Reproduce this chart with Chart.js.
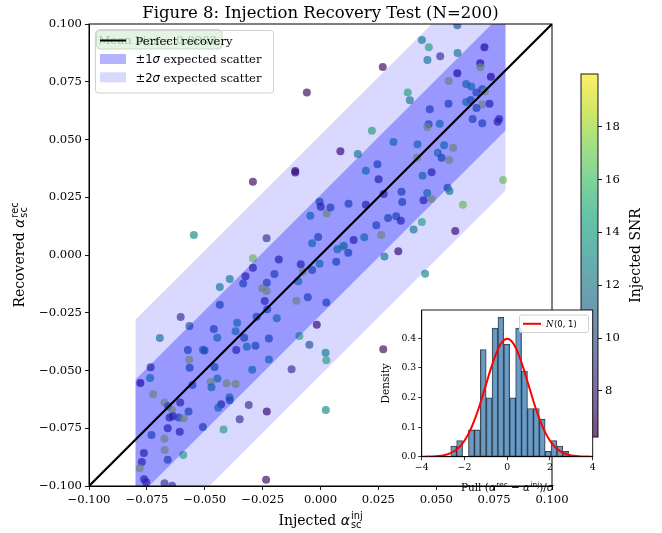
<!DOCTYPE html>
<html>
<head>
<meta charset="utf-8">
<title>Injection Recovery Test</title>
<script src="https://cdn.jsdelivr.net/npm/chart.js@4.4.1/dist/chart.umd.min.js"></script>
<style>
  html, body { margin: 0; padding: 0; background: #fff; }
  #wrap { position: relative; width: 662px; height: 533px; }
  #wrap canvas { position: absolute; left: 0; top: 0; }
</style>
</head>
<body>
<div id="wrap">
  <canvas id="main" width="662" height="533"></canvas>
  <canvas id="cbar" width="662" height="533"></canvas>
  <canvas id="inset" width="662" height="533"></canvas>
</div>
<script>
// values
const injected = [
  -0.0059, -0.0292, -0.0109, -0.0109, -0.0547, -0.0233, -0.0004, 0.0001, -0.0044, 0.0027, -0.0010, -0.0036,
  0.0591, 0.0438, 0.0468, 0.0708, 0.0517, 0.0592, 0.0462, 0.0269, 0.0690, 0.0691,
  0.0591, 0.0736, 0.0554, 0.0629, 0.0651, 0.0673, 0.0699, 0.0710, 0.0377, 0.0386,
  0.0649, 0.0629, 0.0699, 0.0730, 0.0553, 0.0674, 0.0472, 0.0657, 0.0699, 0.0765,
  0.0772, 0.0515, 0.0467, 0.0461, 0.0222, 0.0315, 0.0419, 0.0534, 0.0573, 0.0086,
  0.0161, 0.0507, 0.0523, 0.0416, 0.0556, 0.0246, 0.0196, 0.0480, 0.0441, 0.0251,
  0.0789, 0.0549, 0.0557, 0.0350, 0.0273, 0.0461, 0.0480, 0.0445, 0.0353, 0.0121,
  0.0196, 0.0043, 0.0615, 0.0292, 0.0327, 0.0347, 0.0241, 0.0438, 0.0582, 0.0402,
  0.0262, 0.0189, 0.0143, 0.0336, 0.0094, 0.0101, 0.0073, 0.0120,
  -0.0292, -0.0180, -0.0085, -0.0004, -0.0076, -0.0036, -0.0292, -0.0324, -0.0199, -0.0392,
  -0.0435, -0.0334, -0.0232, -0.0096, -0.0252, -0.0233, 0.0025, -0.0055, -0.0241, -0.0435,
  -0.0104, -0.0230, -0.0276, -0.0189, -0.0604, -0.0566, -0.0360, -0.0367, -0.0461, -0.0330,
  -0.0446, -0.0694, -0.0318, -0.0281, -0.0223, -0.0016, -0.0091, -0.0048, -0.0364, -0.0573,
  -0.0508, -0.0501, -0.0567, -0.0565, -0.0734, -0.0458, -0.0223, 0.0022, 0.0025, -0.0736,
  -0.0778, -0.0553, -0.0445, -0.0474, -0.0406, -0.0367, -0.0471, -0.0295, -0.0125, -0.0723,
  -0.0674, -0.0606, -0.0393, -0.0392, -0.0658, -0.0641, -0.0429, -0.0442, -0.0310, -0.0232,
  0.0023, -0.0652, -0.0638, -0.0613, -0.0591, -0.0570, -0.0349, -0.0508, -0.0419, -0.0660,
  -0.0608, -0.0730, -0.0674, -0.0673, -0.0593, -0.0660, -0.0763, -0.0772, -0.0781, -0.0762,
  -0.0753, -0.0674, -0.0641, -0.0235,
  0.0276, 0.0068, 0.0452, 0.0271
];
const recovered = [
  0.0704, 0.0317, 0.0364, 0.0357, 0.0087, 0.0072, 0.0231, 0.0209, 0.0170, 0.0181, 0.0078, 0.0051,
  0.0995, 0.0931, 0.0899, 0.0899, 0.0860, 0.0874, 0.0844, 0.0814, 0.0830, 0.0813,
  0.0787, 0.0772, 0.0753, 0.0740, 0.0729, 0.0704, 0.0717, 0.0709, 0.0704, 0.0670,
  0.0671, 0.0662, 0.0652, 0.0655, 0.0655, 0.0636, 0.0631, 0.0589, 0.0570, 0.0577,
  0.0589, 0.0568, 0.0566, 0.0554, 0.0538, 0.0489, 0.0479, 0.0475, 0.0464, 0.0449,
  0.0437, 0.0443, 0.0421, 0.0421, 0.0411, 0.0393, 0.0365, 0.0358, 0.0343, 0.0328,
  0.0325, 0.0291, 0.0277, 0.0274, 0.0264, 0.0268, 0.0242, 0.0237, 0.0229, 0.0222,
  0.0218, 0.0206, 0.0218, 0.0160, 0.0168, 0.0148, 0.0129, 0.0143, 0.0104, 0.0110,
  0.0087, 0.0077, 0.0065, 0.0016, 0.0036, 0.0040, 0.0025, 0.0010,
  -0.0014, -0.0020, -0.0040, -0.0038, -0.0072, -0.0065, -0.0055, -0.0092, -0.0082, -0.0104,
  -0.0139, -0.0123, -0.0120, -0.0114, -0.0144, -0.0156, -0.0206, -0.0183, -0.0199, -0.0215,
  -0.0198, -0.0235, -0.0267, -0.0274, -0.0268, -0.0307, -0.0293, -0.0330, -0.0320, -0.0358,
  -0.0358, -0.0359, -0.0397, -0.0393, -0.0361, -0.0302, -0.0351, -0.0388, -0.0411, -0.0411,
  -0.0410, -0.0413, -0.0453, -0.0488, -0.0486, -0.0485, -0.0452, -0.0423, -0.0456, -0.0532,
  -0.0554, -0.0563, -0.0535, -0.0550, -0.0555, -0.0558, -0.0573, -0.0497, -0.0495, -0.0603,
  -0.0638, -0.0638, -0.0616, -0.0629, -0.0655, -0.0671, -0.0646, -0.0661, -0.0649, -0.0678,
  -0.0671, -0.0704, -0.0698, -0.0704, -0.0707, -0.0677, -0.0711, -0.0745, -0.0755, -0.0750,
  -0.0765, -0.0779, -0.0795, -0.0844, -0.0866, -0.0886, -0.0857, -0.0896, -0.0923, -0.0971,
  -0.0984, -0.0988, -0.0999, -0.0973,
  -0.0007, -0.0029, -0.0081, -0.0408
];
const snr = [
  7, 7, 7, 7, 13, 9, 11, 8.5, 14.5, 18.5, 11, 14.5,
  11, 13, 15.5, 7, 9, 13, 13, 7, 7, 18.5,
  7, 7, 18.5, 14.5, 14.5, 11, 11, 18.5, 15.5, 13,
  11, 14.5, 18.5, 8.5, 11, 11, 11, 11, 11, 8.5,
  8.5, 14.5, 11, 18.5, 15.5, 14.5, 14.5, 14.5, 18.5, 7,
  13, 14.5, 11, 18.5, 18.5, 11, 14.5, 8.5, 14.5, 8.5,
  17.5, 11, 13, 11, 8.5, 14.5, 18.5, 8.5, 11, 11,
  8.5, 11, 17.5, 11, 11, 8.5, 11, 15.5, 7, 13,
  18.5, 14.5, 8.5, 7, 18.5, 14.5, 14.5, 11,
  17.5, 8.5, 8.5, 14.5, 18.5, 11, 8.5, 8.5, 11, 13,
  13, 11, 11, 14.5, 18.5, 18.5, 11, 11, 8.5, 11,
  18.5, 11, 11, 14.5, 9, 11, 14.5, 14.5, 11, 11,
  14.5, 13, 14.5, 11, 11, 7, 15.5, 11, 8.5, 11,
  14.5, 11, 18.5, 11, 8.5, 11, 14.5, 13, 15.5, 14.5,
  7, 11, 14.5, 18.5, 18.5, 18.5, 14.5, 14.5, 9, 18.5,
  18.5, 8.5, 14.5, 11, 11, 18.5, 8.5, 14.5, 9, 7,
  13, 8.5, 8.5, 11, 18.5, 11, 9, 11, 15.5, 8.5,
  8.5, 11, 18.5, 18.5, 15.5, 11, 8.5, 8.5, 18.5, 8.5,
  8.5, 9, 9, 7,
  13, 11, 13, 7
];
const sigma = 0.026;
const bandX = [-0.08, 0.08];
const lineX = [-0.1, 0.1];
const axisTicks = [-0.1, -0.075, -0.05, -0.025, 0, 0.025, 0.05, 0.075, 0.1];
const snrRange = [6.25, 20];
const snrTicks = [8, 10, 12, 14, 16, 18];
const pullCounts = [2, 3, 0, 5, 5, 20, 11, 24, 26, 21, 11, 24, 16, 9, 9, 7, 1, 3, 2, 1];
const pullStart = -2.64;
const pullWidth = 0.276;
const pullTicks = [-4, -2, 0, 2, 4];
const densityTicks = [0, 0.1, 0.2, 0.3, 0.4];
const normalX = [-4, -3.75, -3.5, -3.25, -3, -2.75, -2.5, -2.25, -2, -1.75, -1.5, -1.25, -1, -0.75, -0.5, -0.25,
  0, 0.25, 0.5, 0.75, 1, 1.25, 1.5, 1.75, 2, 2.25, 2.5, 2.75, 3, 3.25, 3.5, 3.75, 4];
const normalY = [0.0001, 0.0004, 0.0009, 0.0020, 0.0044, 0.0091, 0.0175, 0.0317, 0.0540, 0.0863, 0.1295, 0.1826,
  0.2420, 0.3011, 0.3521, 0.3867, 0.3989, 0.3867, 0.3521, 0.3011, 0.2420, 0.1826, 0.1295, 0.0863, 0.0540,
  0.0317, 0.0175, 0.0091, 0.0044, 0.0020, 0.0009, 0.0004, 0.0001];
const meanBiasText = 'Mean bias = 0.0002';

const SERIF = '"DejaVu Serif", serif';
const SANS = '"DejaVu Sans", sans-serif';

// viridis colormap stops
const VIRIDIS = [[68,1,84],[72,36,117],[65,68,135],[53,95,141],[42,120,142],[33,145,140],
  [34,168,132],[68,191,112],[122,209,81],[189,223,38],[253,231,37]];
function viridis(t, alpha) {
  t = Math.min(1, Math.max(0, t)) * 10;
  const i = Math.min(9, Math.floor(t)), f = t - i;
  const c = VIRIDIS[i].map((v, k) => Math.round(v + (VIRIDIS[i + 1][k] - v) * f));
  return `rgba(${c[0]},${c[1]},${c[2]},${alpha})`;
}

function fmtTick(v, d) {
  return (v < -1e-9 ? '\u2212' : '') + Math.abs(v).toFixed(d);
}

// draws text made of pieces (for super/subscripts); anchor 0 = left, 0.5 = centre
function drawRuns(ctx, runs, x0, y0, rot, anchor) {
  ctx.save();
  ctx.translate(x0, y0);
  if (rot) ctx.rotate(rot);
  ctx.fillStyle = '#000';
  ctx.textAlign = 'left';
  ctx.textBaseline = 'alphabetic';
  let x = 0, start = 0, w = 0;
  const xs = runs.map(r => {
    ctx.font = r.f;
    const rw = ctx.measureText(r.t).width;
    if (r.under) { w = Math.max(w, rw); x = start + w; return start; }
    start = x + (r.gap || 0); w = rw; x = start + rw; return start;
  });
  const off = anchor === undefined ? x / 2 : x * anchor;
  runs.forEach((r, i) => {
    ctx.font = r.f;
    if (r.color) ctx.fillStyle = r.color;
    ctx.fillText(r.t, xs[i] - off, r.dy || 0);
  });
  ctx.restore();
}

function roundRect(ctx, x, y, w, h, r) {
  ctx.beginPath();
  ctx.moveTo(x + r, y);
  ctx.arcTo(x + w, y, x + w, y + h, r);
  ctx.arcTo(x + w, y + h, x, y + h, r);
  ctx.arcTo(x, y + h, x, y, r);
  ctx.arcTo(x, y, x + w, y, r);
  ctx.closePath();
}

// ---------- main scatter ----------
const points = injected.map((x, i) => ({ x: x, y: recovered[i] }));
const pointColors = snr.map(s => viridis((s - snrRange[0]) / (snrRange[1] - snrRange[0]), 0.7));
const perfect = lineX.map(x => ({ x: x, y: x }));
const band = k => ({
  up: bandX.map(x => ({ x: x, y: x + k * sigma })),
  lo: bandX.map(x => ({ x: x, y: x - k * sigma }))
});
const b1 = band(1), b2 = band(2);
const noLine = { borderWidth: 0, borderColor: 'rgba(0,0,0,0)', pointRadius: 0 };

const mainDecor = {
  id: 'mainDecor',
  afterDraw(chart) {
    const ctx = chart.ctx, a = chart.chartArea;
    ctx.save();
    ctx.strokeStyle = '#000';
    ctx.lineWidth = 1;
    ctx.strokeRect(a.left, a.top, a.right - a.left, a.bottom - a.top);

    // title
    ctx.fillStyle = '#000';
    ctx.font = '16.5px ' + SERIF;
    ctx.textAlign = 'center';
    ctx.textBaseline = 'alphabetic';
    ctx.fillText('Figure 8: Injection Recovery Test (N=200)', (a.left + a.right) / 2, 18);

    // axis labels
    drawRuns(ctx, [
      { t: 'Injected ', f: '14px ' + SERIF },
      { t: '\u03b1', f: 'italic 14px ' + SANS },
      { t: 'inj', f: '9.8px ' + SANS, dy: -6, gap: 1 },
      { t: 'sc', f: '9.8px ' + SANS, dy: 3, under: true }
    ], (a.left + a.right) / 2, 525);
    drawRuns(ctx, [
      { t: 'Recovered ', f: '14px ' + SERIF },
      { t: '\u03b1', f: 'italic 14px ' + SANS },
      { t: 'rec', f: '9.8px ' + SANS, dy: -6, gap: 1 },
      { t: 'sc', f: '9.8px ' + SANS, dy: 3, under: true }
    ], 24, (a.top + a.bottom) / 2, -Math.PI / 2);

    // legend
    const lx = 95.5, ly = 30.5, lw = 178, lh = 62.5;
    roundRect(ctx, lx, ly, lw, lh, 3);
    ctx.fillStyle = '#ffffff';
    ctx.fill();
    // mean bias note, mostly hidden under the legend
    roundRect(ctx, 96.5, 29.5, 125.5, 19.5, 4);
    ctx.fillStyle = '#e4f4e2';
    ctx.fill();
    ctx.strokeStyle = '#c9d9c9';
    ctx.stroke();
    ctx.font = '11.6px ' + SERIF;
    ctx.textAlign = 'left';
    ctx.fillStyle = '#a9c4a7';
    ctx.fillText(meanBiasText, 98.5, 44);
    roundRect(ctx, lx, ly, lw, lh, 3);
    ctx.strokeStyle = '#d0d0d0';
    ctx.stroke();

    ctx.strokeStyle = '#000';
    ctx.lineWidth = 2;
    ctx.beginPath();
    ctx.moveTo(100, 40.5);
    ctx.lineTo(126, 40.5);
    ctx.stroke();
    ctx.fillStyle = 'rgb(179,179,255)';
    ctx.fillRect(100, 54, 26, 10);
    ctx.fillStyle = 'rgb(217,217,255)';
    ctx.fillRect(100, 72.3, 26, 10);
    drawRuns(ctx, [{ t: 'Perfect recovery', f: '11.6px ' + SERIF }], 135.5, 44.7, 0, 0);
    [['1', 63.2], ['2', 81.5]].forEach(([k, y]) => {
      drawRuns(ctx, [
        { t: '\u00b1' + k, f: '11.6px ' + SANS },
        { t: '\u03c3', f: 'italic 11.6px ' + SANS },
        { t: ' expected scatter', f: '11.6px ' + SERIF }
      ], 135.5, y, 0, 0);
    });
    ctx.restore();
  }
};

function axisOpts(extra) {
  return Object.assign({
    type: 'linear', min: -0.1, max: 0.1,
    afterBuildTicks: s => { s.ticks = axisTicks.map(v => ({ value: v })); },
    ticks: { autoSkip: false, maxRotation: 0, color: '#000', padding: 3,
      font: { family: SERIF, size: 11.6 }, callback: v => fmtTick(v, 3) },
    grid: { drawOnChartArea: false, drawTicks: true, tickLength: 4, color: '#000', lineWidth: 0.9 },
    border: { display: true, color: '#000', width: 1 }
  }, extra);
}

// draw order: points first, then the two bands laid over them, then the 1:1 line
new Chart(document.getElementById('main'), {
  type: 'scatter',
  data: {
    datasets: [
      { type: 'scatter', data: points, backgroundColor: pointColors, borderWidth: 0,
        pointRadius: 4, pointHoverRadius: 4, order: 3, clip: 0 },
      { type: 'line', data: perfect, borderColor: '#000', borderWidth: 2.2, pointRadius: 0, order: 0, clip: 0 },
      Object.assign({ type: 'line', data: b1.up, fill: '+1', backgroundColor: 'rgba(0,0,255,0.3)', order: 1 }, noLine),
      Object.assign({ type: 'line', data: b1.lo, fill: false, order: 1 }, noLine),
      Object.assign({ type: 'line', data: b2.up, fill: '+1', backgroundColor: 'rgba(0,0,255,0.15)', order: 2 }, noLine),
      Object.assign({ type: 'line', data: b2.lo, fill: false, order: 2 }, noLine)
    ]
  },
  options: {
    responsive: false,
    animation: false,
    events: [],
    layout: { padding: { left: 0, right: 110, top: 24, bottom: 0 } },
    plugins: { legend: { display: false }, tooltip: { enabled: false } },
    scales: {
      x: axisOpts({ afterFit: s => { s.height = 47; } }),
      y: axisOpts({ afterFit: s => { s.width = 89; } })
    }
  },
  plugins: [mainDecor]
});

// ---------- colour bar ----------
const cbarDecor = {
  id: 'cbarDecor',
  beforeDraw(chart) {
    const ctx = chart.ctx, a = chart.chartArea;
    const g = ctx.createLinearGradient(0, a.bottom, 0, a.top);
    VIRIDIS.forEach((c, i) => g.addColorStop(i / 10, `rgba(${c[0]},${c[1]},${c[2]},0.7)`));
    ctx.save();
    ctx.fillStyle = g;
    ctx.fillRect(a.left, a.top, a.right - a.left, a.bottom - a.top);
    ctx.restore();
  },
  afterDraw(chart) {
    const ctx = chart.ctx, a = chart.chartArea;
    ctx.save();
    ctx.strokeStyle = '#000';
    ctx.lineWidth = 0.9;
    ctx.strokeRect(a.left, a.top, a.right - a.left, a.bottom - a.top);
    drawRuns(ctx, [{ t: 'Injected SNR', f: '14px ' + SERIF }], 640, (a.top + a.bottom) / 2, -Math.PI / 2);
    ctx.restore();
  }
};

new Chart(document.getElementById('cbar'), {
  type: 'scatter',
  data: { datasets: [] },
  options: {
    responsive: false,
    animation: false,
    events: [],
    layout: { padding: { left: 581, right: 0, top: 74, bottom: 96 } },
    plugins: { legend: { display: false }, tooltip: { enabled: false } },
    scales: {
      x: { type: 'linear', display: false, min: 0, max: 1 },
      y: {
        type: 'linear', position: 'right', min: snrRange[0], max: snrRange[1],
        afterBuildTicks: s => { s.ticks = snrTicks.map(v => ({ value: v })); },
        afterFit: s => { s.width = 64; },
        ticks: { color: '#000', padding: 3, font: { family: SERIF, size: 11.6 } },
        grid: { drawOnChartArea: false, drawTicks: true, tickLength: 4, color: '#000', lineWidth: 0.9 },
        border: { display: false }
      }
    }
  },
  plugins: [cbarDecor]
});

// ---------- inset histogram of pulls ----------
const nPull = pullCounts.reduce((s, c) => s + c, 0);
const pullBins = pullCounts.map((c, i) => ({
  x: pullStart + (i + 0.5) * pullWidth,
  y: c / (nPull * pullWidth)
}));
const normalPts = normalX.map((x, i) => ({ x: x, y: normalY[i] }));

const insetDecor = {
  id: 'insetDecor',
  beforeDraw(chart) {
    const ctx = chart.ctx, a = chart.chartArea;
    ctx.save();
    ctx.fillStyle = '#fff';
    ctx.fillRect(a.left, a.top, a.right - a.left, a.bottom - a.top);
    ctx.restore();
  },
  afterDraw(chart) {
    const ctx = chart.ctx, a = chart.chartArea;
    ctx.save();
    ctx.strokeStyle = '#000';
    ctx.lineWidth = 0.9;
    ctx.strokeRect(a.left, a.top, a.right - a.left, a.bottom - a.top);

    // legend
    roundRect(ctx, 519.5, 315, 69, 17.5, 2);
    ctx.fillStyle = 'rgba(255,255,255,0.85)';
    ctx.fill();
    ctx.strokeStyle = '#d0d0d0';
    ctx.lineWidth = 1;
    ctx.stroke();
    ctx.strokeStyle = '#ff0000';
    ctx.lineWidth = 2;
    ctx.beginPath();
    ctx.moveTo(523, 323.8);
    ctx.lineTo(541, 323.8);
    ctx.stroke();
    drawRuns(ctx, [
      { t: 'N', f: 'italic 8.5px ' + SERIF },
      { t: '(0, 1)', f: '8.5px ' + SANS, gap: 0.5 }
    ], 546, 327, 0, 0);

    drawRuns(ctx, [{ t: 'Density', f: '10.5px ' + SERIF }], 389, (a.top + a.bottom) / 2, -Math.PI / 2);
    drawRuns(ctx, [
      { t: 'Pull (', f: '10.5px ' + SERIF },
      { t: '\u03b1', f: 'italic 10.5px ' + SANS },
      { t: 'rec', f: '7.3px ' + SANS, dy: -4.5, gap: 0.5 },
      { t: ' \u2212 ', f: '10.5px ' + SANS },
      { t: '\u03b1', f: 'italic 10.5px ' + SANS },
      { t: 'inj', f: '7.3px ' + SANS, dy: -4.5, gap: 0.5 },
      { t: ')/', f: '10.5px ' + SANS },
      { t: '\u03c3', f: 'italic 10.5px ' + SANS }
    ], (a.left + a.right) / 2, 491);
    ctx.restore();
  }
};

new Chart(document.getElementById('inset'), {
  type: 'bar',
  data: {
    datasets: [
      { type: 'line', data: normalPts, borderColor: '#ff0000', borderWidth: 2, pointRadius: 0,
        cubicInterpolationMode: 'monotone', order: 0, clip: 0 },
      { type: 'bar', data: pullBins, backgroundColor: 'rgba(70,130,180,0.8)',
        borderColor: 'rgba(0,0,0,0.75)', borderWidth: 0.8, borderSkipped: false,
        barPercentage: 1, categoryPercentage: 1, order: 1 }
    ]
  },
  options: {
    responsive: false,
    animation: false,
    events: [],
    layout: { padding: { left: 381.7, right: 69.3, top: 310, bottom: 56.3 } },
    plugins: { legend: { display: false }, tooltip: { enabled: false } },
    scales: {
      x: {
        type: 'linear', min: -4, max: 4, offset: false,
        afterBuildTicks: s => { s.ticks = pullTicks.map(v => ({ value: v })); },
        afterFit: s => { s.height = 20; },
        ticks: { autoSkip: false, maxRotation: 0, color: '#000', padding: 2,
          font: { family: SERIF, size: 9.3 }, callback: v => fmtTick(v, 0) },
        grid: { offset: false, drawOnChartArea: false, drawTicks: true, tickLength: 3.5, color: '#000', lineWidth: 0.8 },
        border: { display: true, color: '#000', width: 0.9 }
      },
      y: {
        type: 'linear', min: 0, max: 0.496,
        afterBuildTicks: s => { s.ticks = densityTicks.map(v => ({ value: v })); },
        afterFit: s => { s.width = 40; },
        ticks: { color: '#000', padding: 2, font: { family: SERIF, size: 9.3 }, callback: v => v.toFixed(1) },
        grid: { drawOnChartArea: false, drawTicks: true, tickLength: 3.5, color: '#000', lineWidth: 0.8 },
        border: { display: true, color: '#000', width: 0.9 }
      }
    }
  },
  plugins: [insetDecor]
});
</script>
</body>
</html>
